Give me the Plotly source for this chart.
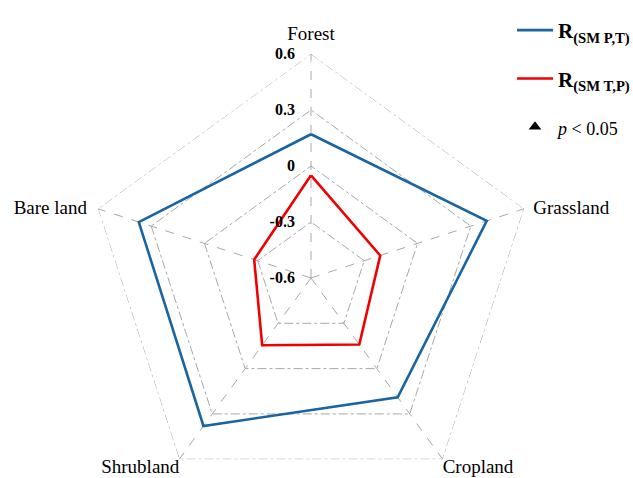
import plotly.graph_objects as go

# Land-cover classes around the radar, clockwise from the top
categories = ["Forest", "Grassland", "Cropland", "Shrubland", "Bare land"]

# Partial correlation coefficients per land-cover class
r_sm_pt = [0.17, 0.39, 0.19, 0.38, 0.37]
r_sm_tp = [-0.05, -0.21, -0.16, -0.155, -0.28]

# Significance flags (p < 0.05)
sig_pt = [False, True, False, True, True]
sig_tp = [False, True, False, False, True]

radial_ticks = [-0.6, -0.3, 0, 0.3, 0.6]
radial_labels = ["-0.6", "-0.3", "0", "0.3", "0.6"]

BLUE = "#1A64A0"
RED = "#F00000"
GRID = "#A8A8A8"
SERIF = "Liberation Serif, Times New Roman, serif"

W, H = 633, 502
TOP = 54
RADIUS_PX = 224
R_MIN, R_MAX = min(radial_ticks), max(radial_ticks)

# Class-name placement around the outer vertices; an invisible marker of the
# given size sets how far each name stands off its vertex
label_positions = ["top center", "middle right", "bottom right", "bottom left", "middle left"]
label_spacer = [14, 13, 0, 0, 16]


def closed(seq):
    return list(seq) + [seq[0]]


fig = go.Figure()

# Outer boundary ring drawn dash-dot like the inner rings
fig.add_trace(go.Scatterpolar(
    r=[R_MAX] * (len(categories) + 1),
    theta=closed(categories),
    mode="lines",
    line=dict(color=GRID, width=1, dash="dashdot"),
    showlegend=False, hoverinfo="skip",
))

fig.add_trace(go.Scatterpolar(
    r=closed(r_sm_pt), theta=closed(categories), mode="lines",
    line=dict(color=BLUE, width=2.6),
    name="<b>R</b><sub><b>(SM P,T)</b></sub>", legendgroup="a",
))
fig.add_trace(go.Scatterpolar(
    r=closed(r_sm_tp), theta=closed(categories), mode="lines",
    line=dict(color=RED, width=2.6),
    name="<b>R</b><sub><b>(SM T,P)</b></sub>", legendgroup="b",
))

sig_r = [v for v, s in zip(r_sm_pt, sig_pt) if s] + [v for v, s in zip(r_sm_tp, sig_tp) if s]
sig_t = [c for c, s in zip(categories, sig_pt) if s] + [c for c, s in zip(categories, sig_tp) if s]
fig.add_trace(go.Scatterpolar(
    r=sig_r, theta=sig_t, mode="markers",
    marker=dict(symbol="triangle-up", size=11, color="black"),
    name='<span style="font-size:18px"><i>p</i> &lt; 0.05</span>', legendgroup="c",
))

# Class names just outside the outer ring
fig.add_trace(go.Scatterpolar(
    r=[R_MAX] * len(categories), theta=categories,
    mode="markers+text", text=categories, textposition=label_positions,
    marker=dict(size=label_spacer, color="rgba(0,0,0,0)"),
    textfont=dict(family=SERIF, size=19, color="black"),
    cliponaxis=False, showlegend=False, hoverinfo="skip",
))

fig.update_layout(
    width=W, height=H,
    margin=dict(l=0, r=0, t=TOP, b=0, autoexpand=False),
    paper_bgcolor="white", plot_bgcolor="white",
    font=dict(family=SERIF, color="black"),
    polar=dict(
        bgcolor="white",
        domain=dict(x=[(311 - RADIUS_PX) / W, (311 + RADIUS_PX) / W], y=[0, 1]),
        gridshape="linear",
        radialaxis=dict(
            range=[R_MIN, R_MAX],
            tickvals=radial_ticks, ticktext=radial_labels,
            angle=90, side="counterclockwise", tickangle=90,
            showline=False, ticks="outside", ticklen=10,
            tickcolor="rgba(0,0,0,0)",
            gridcolor=GRID, gridwidth=1, griddash="dashdot",
            tickfont=dict(family=SERIF, size=16, color="black", weight="bold"),
        ),
        angularaxis=dict(
            rotation=90, direction="clockwise",
            showline=False, ticks="", showticklabels=False,
            gridcolor=GRID, gridwidth=1, griddash="dash",
        ),
    ),
    legend=dict(
        x=512 / W, y=1 + (TOP - 10) / (H - TOP), xanchor="left", yanchor="top",
        font=dict(family=SERIF, size=21, color="black"),
        bgcolor="rgba(0,0,0,0)", tracegroupgap=18, itemwidth=36,
    ),
)

fig.write_html("out.html")
